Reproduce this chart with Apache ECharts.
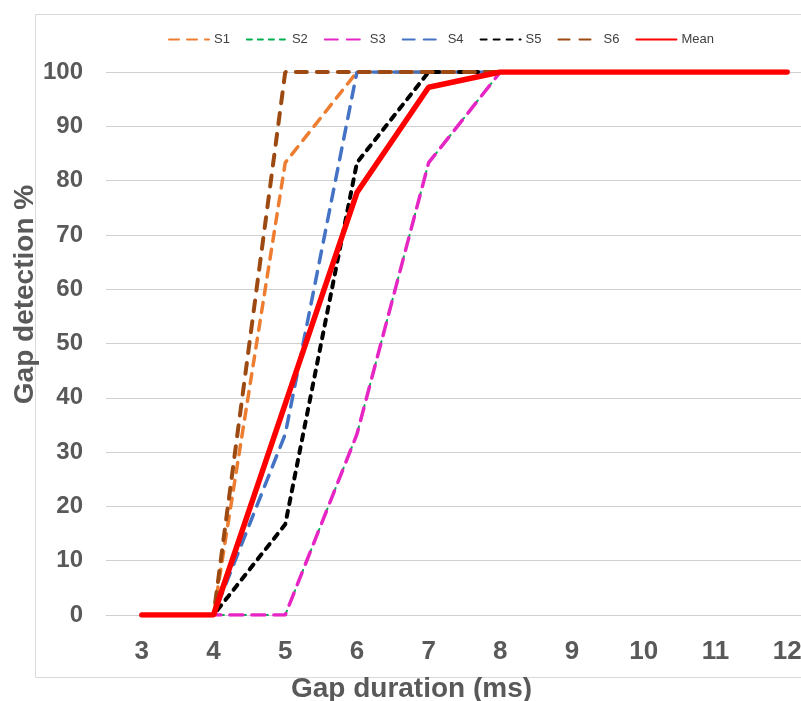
<!DOCTYPE html>
<html>
<head>
<meta charset="utf-8">
<script src="https://cdn.jsdelivr.net/npm/echarts@6/dist/echarts.min.js"></script>
<style>html,body{margin:0;padding:0;background:#fff;}#c{width:801px;height:701px;}</style>
</head>
<body>
<div id="c"></div>
<script>
var categories = ['3','4','5','6','7','8','9','10','11','12'];
var s1 = [0, 0, 83.3, 100, 100, 100, 100, 100, 100, 100];
var s2 = [0, 0, 0, 33.3, 83.3, 100, 100, 100, 100, 100];
var s3 = [0, 0, 0, 33.3, 83.3, 100, 100, 100, 100, 100];
var s4 = [0, 0, 33.3, 100, 100, 100, 100, 100, 100, 100];
var s5 = [0, 0, 16.7, 83.3, 100, 100, 100, 100, 100, 100];
var s6 = [0, 0, 100, 100, 100, 100, 100, 100, 100, 100];
var mean = [0, 0, 38.9, 77.8, 97.2, 100, 100, 100, 100, 100];
var seriesNames = ['S1','S2','S3','S4','S5','S6','Mean'];

var FONT = '"Liberation Sans", Arial, sans-serif';
var GREY = '#595959';

function ln(name, data, color, width, type) {
  return {
    name: name, type: 'line', data: data, symbol: 'none', showSymbol: false,
    lineStyle: { color: color, width: width, type: type, cap: 'round' },
    itemStyle: { color: color },
    emphasis: { disabled: true }, animation: false
  };
}

var chart = echarts.init(document.getElementById('c'), null, { renderer: 'canvas' });
chart.setOption({
  backgroundColor: '#ffffff',
  animation: false,
  graphic: [{
    type: 'rect', left: 33, top: 12, silent: true, z: -10,
    shape: { width: 800, height: 663 },
    style: { fill: 'none', stroke: '#d9d9d9', lineWidth: 1 }
  }],
  legend: {
    data: seriesNames,
    left: 163, top: 28,
    itemWidth: 40, itemHeight: 14, itemGap: 16,
    itemStyle: { color: 'rgba(0,0,0,0)', borderWidth: 0, opacity: 0 },
    textStyle: { fontFamily: FONT, fontSize: 13, color: '#404040' }
  },
  grid: { left: 106, width: 717, top: 72, height: 543, containLabel: false, outerBoundsMode: 'none' },
  xAxis: {
    type: 'category', data: categories, boundaryGap: true,
    name: 'Gap duration (ms)', nameLocation: 'middle', nameGap: 60, nameMoveOverlap: false,
    nameTextStyle: { fontFamily: FONT, fontSize: 28, fontWeight: 'bold', color: GREY, padding: [0, 106, 0, 0] },
    axisLine: { lineStyle: { color: '#d0d0d0', width: 1 } },
    axisTick: { show: false },
    axisLabel: { fontFamily: FONT, fontSize: 26, fontWeight: 'bold', color: GREY, margin: 24 },
    splitLine: { show: false }
  },
  yAxis: {
    type: 'value', min: 0, max: 100, interval: 10,
    name: 'Gap detection %', nameLocation: 'middle', nameGap: 67, nameMoveOverlap: false,
    nameTextStyle: { fontFamily: FONT, fontSize: 28, fontWeight: 'bold', color: GREY, padding: [0, 0, 0, 98] },
    axisLine: { show: false },
    axisTick: { show: false },
    axisLabel: { fontFamily: FONT, fontSize: 24, fontWeight: 'bold', color: GREY, margin: 23 },
    splitLine: { lineStyle: { color: '#d0d0d0', width: 1 } }
  },
  series: [
    ln('S1', s1, '#ED7D31', 3.5, [10, 8]),
    ln('S2', s2, '#00B050', 2, [5, 6]),
    ln('S3', s3, '#E526C4', 3.5, [13, 9]),
    ln('S4', s4, '#4472C4', 3.5, [12, 9]),
    ln('S5', s5, '#000000', 4, [6, 7]),
    ln('S6', s6, '#9C4A12', 4, [11, 10]),
    ln('Mean', mean, '#FF0000', 5.5, 'solid')
  ]
});
</script>
</body>
</html>
